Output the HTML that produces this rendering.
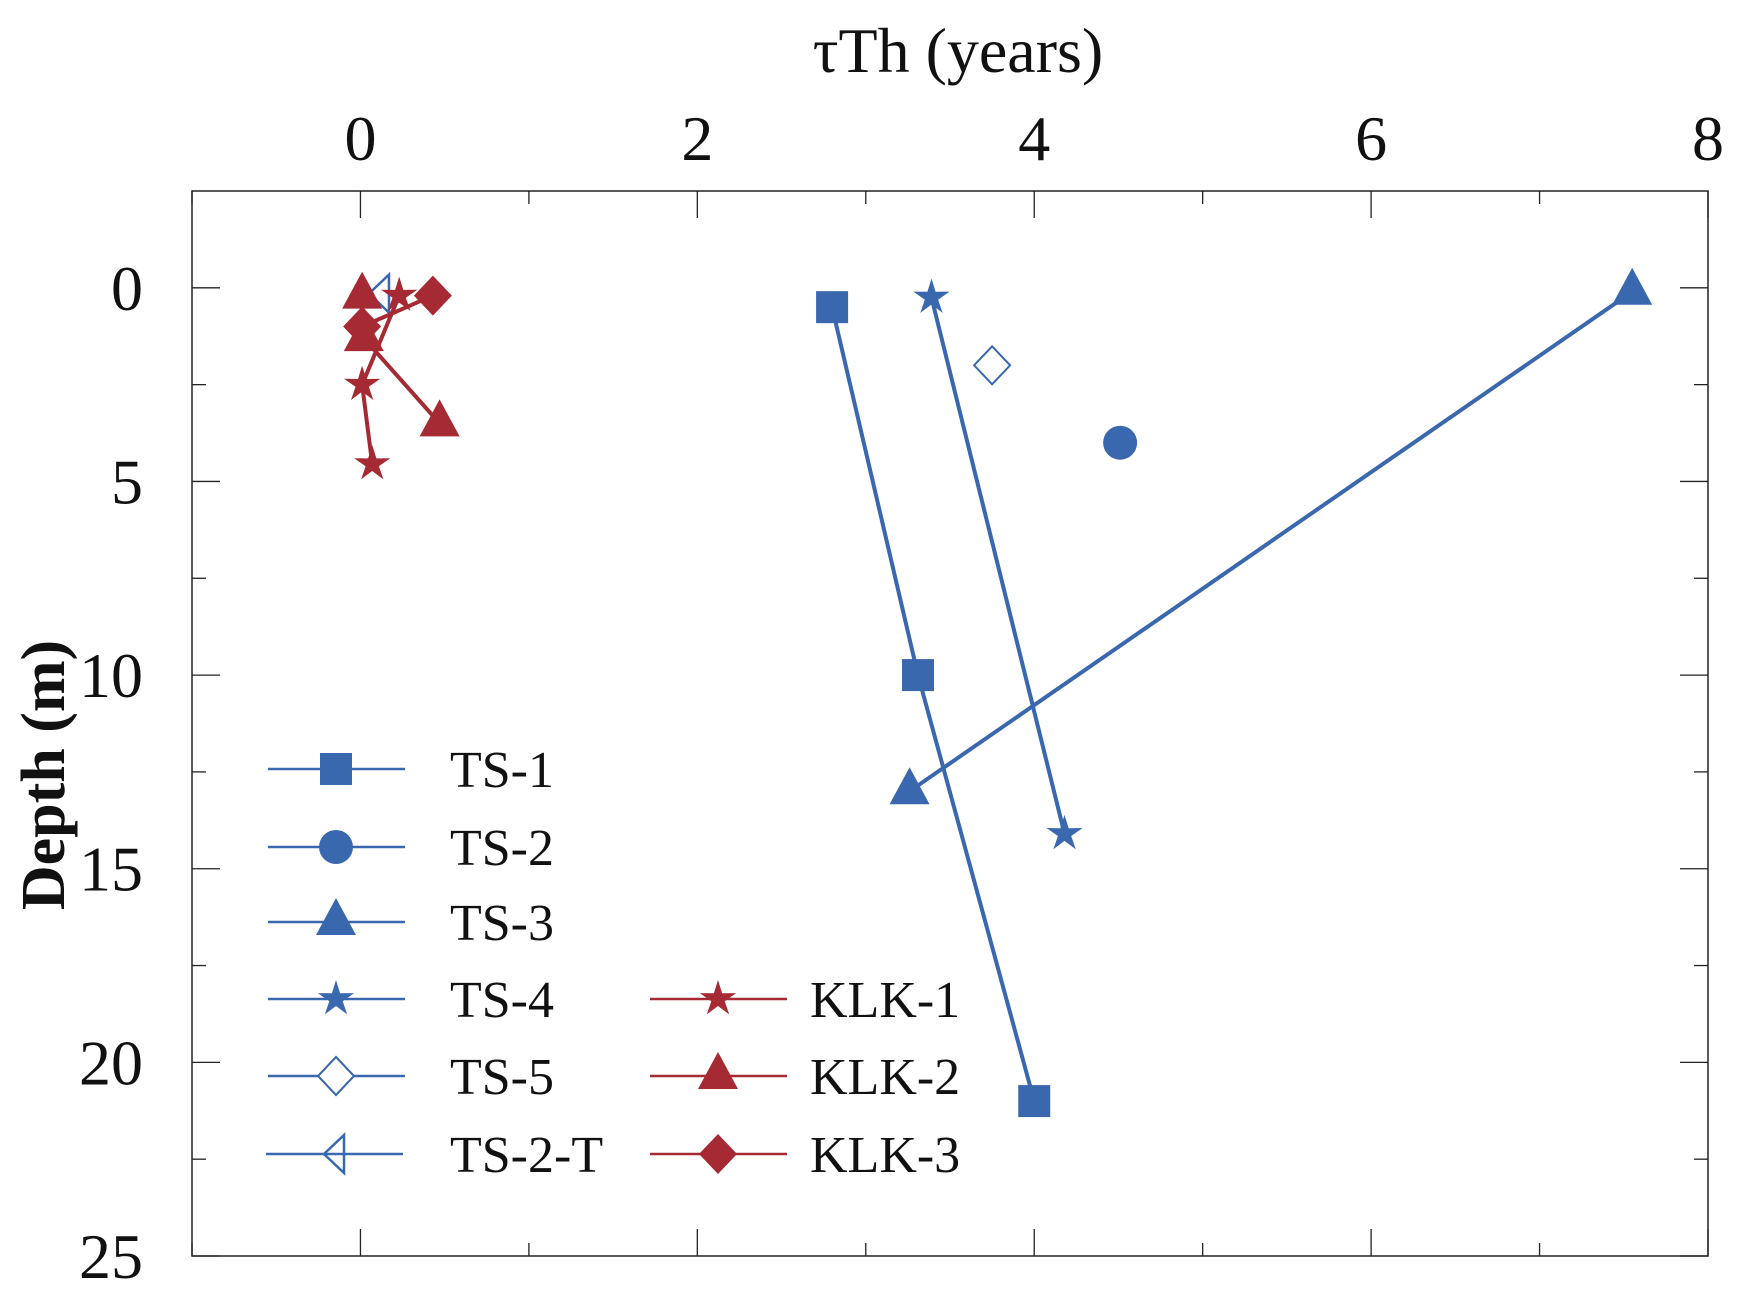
<!DOCTYPE html>
<html><head><meta charset="utf-8"><style>
html,body{margin:0;padding:0;background:#fff;}
svg{display:block;font-family:"Liberation Serif",serif;}
</style></head><body>
<svg id="chart" width="1739" height="1308" viewBox="0 0 1739 1308" xmlns="http://www.w3.org/2000/svg"></svg>
<script>
const xTicks = [0, 2, 4, 6, 8];
const yTicks = [0, 5, 10, 15, 20, 25];
const ts1X = [2.80, 3.31, 4.0];   const ts1D = [0.5, 10.0, 21.0];
const ts2X = [4.51];              const ts2D = [4.0];
const ts3X = [7.55, 3.26];        const ts3D = [0.1, 13.0];
const ts4X = [3.39, 4.18];        const ts4D = [0.25, 14.1];
const ts5X = [3.75];              const ts5D = [2.0];
const ts2tX = [0.11];             const ts2tD = [0.15];
const klk1X = [0.23, 0.01, 0.07]; const klk1D = [0.2, 2.5, 4.55];
const klk2X = [0.01, 0.02, 0.47]; const klk2D = [0.2, 1.3, 3.5];
const klk3X = [0.43, 0.01];       const klk3D = [0.2, 1.0];

const L=192,R=1708,T=191,B=1256, XMIN=-1,XMAX=8,YMIN=-2.5,YMAX=25;
const sx=v=>L+(v-XMIN)/(XMAX-XMIN)*(R-L);
const sy=v=>T+(v-YMIN)/(YMAX-YMIN)*(B-T);
const BLUE="#3a68ae", RED="#a52a34";
const svg=document.getElementById('chart');
const NS="http://www.w3.org/2000/svg";
function mk(tag,attrs,parent){const e=document.createElementNS(NS,tag);for(const k in attrs)e.setAttribute(k,attrs[k]);(parent||svg).appendChild(e);return e;}

const frame=mk('rect',{x:L,y:T,width:R-L,height:B-T,fill:'none',stroke:'#222','stroke-width':1.5});


const tg=mk('g',{stroke:'#222','stroke-width':1.3});


for(let v=-1;v<=8;v++){
  const len=(v%2===0)?27:13,x=sx(v);
  mk('line',{x1:x,y1:T,x2:x,y2:T+len},tg);
  mk('line',{x1:x,y1:B,x2:x,y2:B-len},tg);
}
for(let v=0;v<=25;v+=2.5){
  const len=(v%5===0)?28:14,y=sy(v);
  mk('line',{x1:L,y1:y,x2:L+len,y2:y},tg);
  mk('line',{x1:R,y1:y,x2:R-len,y2:y},tg);
}
xTicks.forEach(v=>{
  const t=mk('text',{x:sx(v),y:160,'font-size':64,'text-anchor':'middle',fill:'#111'});
  t.textContent=v;
  
  
});
yTicks.forEach(v=>{
  const t=mk('text',{x:143,y:sy(v)+22,'font-size':64,'text-anchor':'end',fill:'#111'});
  t.textContent=v;
  
  
});
const xt=mk('text',{x:958,y:72,'font-size':64,'text-anchor':'middle',fill:'#111'});
xt.textContent='τTh (years)';


const yt=mk('text',{x:0,y:0,'font-size':62,'font-weight':'bold','text-anchor':'middle',fill:'#111',transform:'translate(64,775) rotate(-90)'});
yt.textContent='Depth (m)';



function marker(type,cx,cy,color,parent){
  let e;
  if(type==='square') e=mk('rect',{x:cx-16,y:cy-16,width:32,height:32,fill:color},parent);
  else if(type==='circle') e=mk('circle',{cx:cx,cy:cy,r:17,fill:color},parent);
  else if(type==='tri') e=mk('polygon',{points:`${cx},${cy-24} ${cx+20},${cy+13} ${cx-20},${cy+13}`,fill:color},parent);
  else if(type==='star'){
    let p=[];for(let i=0;i<10;i++){const r=i%2?7:19,a=-Math.PI/2+i*Math.PI/5;p.push((cx+r*Math.cos(a)).toFixed(1)+','+(cy+r*Math.sin(a)).toFixed(1));}
    e=mk('polygon',{points:p.join(' '),fill:color},parent);
  }
  else if(type==='diamond') e=mk('polygon',{points:`${cx},${cy-20} ${cx+19},${cy} ${cx},${cy+20} ${cx-19},${cy}`,fill:color},parent);
  else if(type==='odiamond') e=mk('polygon',{points:`${cx},${cy-19} ${cx+18},${cy} ${cx},${cy+19} ${cx-18},${cy}`,fill:'#fff',stroke:color,'stroke-width':2},parent);
  else if(type==='oltri') e=mk('polygon',{points:`${cx-10},${cy} ${cx+10},${cy-19} ${cx+10},${cy+19}`,fill:'none',stroke:color,'stroke-width':2.5},parent);
  return e;
}
function series(name,xs,ds,type,color){
  const g=mk('g',{});
  
  
  if(xs.length>1){
    const pts=xs.map((v,i)=>sx(v)+','+sy(ds[i])).join(' ');
    const pl=mk('polyline',{points:pts,fill:'none',stroke:color,'stroke-width':4},g);
    
    
  }
  xs.forEach((v,i)=>{
    const m=marker(type,sx(v),sy(ds[i]),color,g);
    
    
  });
}
series('ts-1',ts1X,ts1D,'square',BLUE);
series('ts-2',ts2X,ts2D,'circle',BLUE);
series('ts-3',ts3X,ts3D,'tri',BLUE);
series('ts-4',ts4X,ts4D,'star',BLUE);
series('ts-5',ts5X,ts5D,'odiamond',BLUE);
series('ts-2-t',ts2tX,ts2tD,'oltri',BLUE);
series('klk-2',klk2X,klk2D,'tri',RED);
series('klk-3',klk3X,klk3D,'diamond',RED);
series('klk-1',klk1X,klk1D,'star',RED);

const legend=[
 ['TS-1','square',BLUE,268,769,182],['TS-2','circle',BLUE,268,847,182],['TS-3','tri',BLUE,268,922,182],
 ['TS-4','star',BLUE,268,999,182],['TS-5','odiamond',BLUE,268,1076,182],['TS-2-T','oltri',BLUE,266,1154,184],
 ['KLK-1','star',RED,650,999,160],['KLK-2','tri',RED,650,1076,160],['KLK-3','diamond',RED,650,1154,160]];
legend.forEach(([lab,type,col,x,y,tx])=>{
  const g=mk('g',{});
  
  
  mk('line',{x1:x,y1:y,x2:x+137,y2:y,stroke:col,'stroke-width':2.5},g);
  marker(type,x+68,y,col,g);
  const t=mk('text',{x:x+tx,y:y+18,'font-size':52,fill:'#111'},g);
  t.textContent=lab;
});
</script>
</body></html>
